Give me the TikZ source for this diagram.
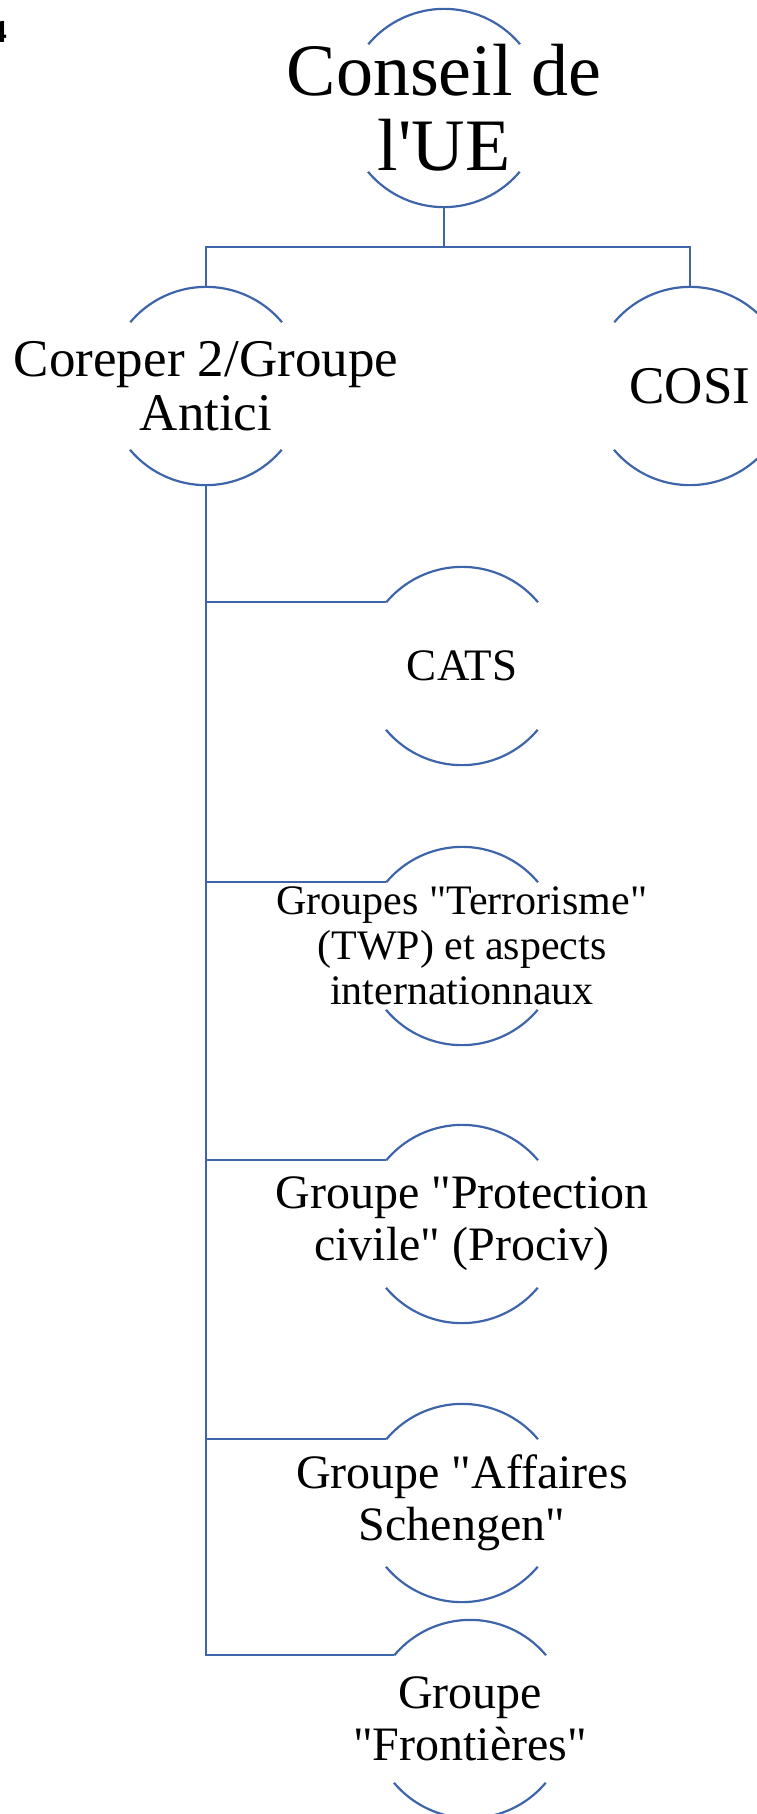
\documentclass[tikz,border=0pt]{standalone}
\usepackage{fontspec}
\setmainfont{Liberation Serif}[Ligatures=TeXOff]
\definecolor{lineblue}{RGB}{62,100,170}
\begin{document}
\begin{tikzpicture}[x=1pt,y=1pt,
  holder/.style={circle,minimum size=198pt,inner sep=0pt,draw=none},
  lbl/.style={align=center,inner sep=0pt},
  conn/.style={draw=lineblue,line width=2.2pt},
  arcline/.style={draw=lineblue,line width=2.2pt}]
\useasboundingbox (0,0) rectangle (757,-1814);
% holders
\node[holder] (conseil) at (444,-108) {};
\node[holder] (coreper) at (206,-386) {};
\node[holder] (cosi) at (690,-386) {};
\node[holder] (cats) at (462,-666) {};
\node[holder] (twp) at (462,-946) {};
\node[holder] (prociv) at (462,-1224) {};
\node[holder] (schengen) at (462,-1503) {};
\node[holder] (front) at (470,-1719) {};
% arcs
\foreach \n in {conseil,coreper,cosi,cats,twp,prociv,schengen,front}{
  \draw[arcline] (\n.40) arc[start angle=40,end angle=140,radius=99pt];
  \draw[arcline] (\n.220) arc[start angle=220,end angle=320,radius=99pt];
}
% labels
\node[lbl,font=\fontsize{74}{75}\selectfont] (tconseil) at (conseil) {Conseil de\\l'UE};
\node[lbl,font=\fontsize{53}{54}\selectfont] (tcoreper) at (coreper) {Coreper 2/Groupe\\Antici};
\node[lbl,font=\fontsize{53}{54}\selectfont] (tcosi) at (cosi) {COSI};
\node[lbl,font=\fontsize{45}{48}\selectfont] (tcats) at (cats) {CATS};
\node[lbl,font=\fontsize{42}{45}\selectfont] (ttwp) at (twp) {Groupes "Terrorisme"\\(TWP) et aspects\\internationnaux};
\node[lbl,font=\fontsize{48}{52}\selectfont] (tprociv) at (prociv) {Groupe "Protection\\civile" (Prociv)};
\node[lbl,font=\fontsize{48}{52}\selectfont] (tschengen) at (schengen) {Groupe "Affaires\\Schengen"};
\node[lbl,font=\fontsize{48}{52}\selectfont] (tfront) at (front) {Groupe\\"Frontières"};
\node[anchor=base east,inner sep=0pt,font=\fontsize{32}{34}\selectfont\bfseries] (four) at (7,-43) {4};
% connectors
\draw[conn] (conseil.south) -- ++(0,-40) -| (coreper.north);
\draw[conn] (conseil.south) -- ++(0,-40) -| (cosi.north);
\draw[conn] (coreper.south) |- (cats.140);
\draw[conn] (coreper.south) |- (twp.140);
\draw[conn] (coreper.south) |- (prociv.140);
\draw[conn] (coreper.south) |- (schengen.140);
\draw[conn] (coreper.south) |- (front.140);
\end{tikzpicture}
\end{document}
